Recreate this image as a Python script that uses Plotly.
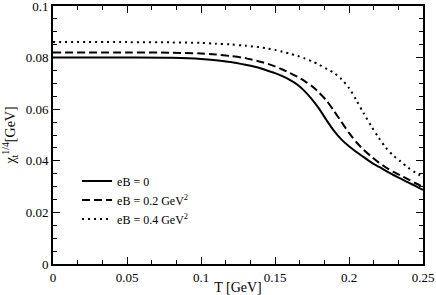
import plotly.graph_objects as go

T = [0, 0.05, 0.08, 0.10, 0.11, 0.12, 0.13, 0.14, 0.145, 0.15, 0.155, 0.16, 0.165, 0.17, 0.175,
     0.18, 0.185, 0.19, 0.195, 0.20, 0.205, 0.21, 0.215, 0.22, 0.225, 0.23, 0.235, 0.24, 0.245, 0.25]

chi_eB0 = [0.0800, 0.0800, 0.0799, 0.0795, 0.0790, 0.0783, 0.0772, 0.0759, 0.0749, 0.0740, 0.0728, 0.0714, 0.0696, 0.0670, 0.0638,
           0.0600, 0.0556, 0.0515, 0.0482, 0.0456, 0.0434, 0.0414, 0.0394, 0.0377, 0.0361, 0.0345, 0.0331, 0.0316, 0.0302, 0.0287]

chi_eB02 = [0.0820, 0.0820, 0.0819, 0.0816, 0.0812, 0.0806, 0.0798, 0.0784, 0.0776, 0.0766, 0.0754, 0.0740, 0.0726, 0.0709, 0.0689,
            0.0663, 0.0632, 0.0592, 0.0550, 0.0508, 0.0472, 0.0442, 0.0417, 0.0394, 0.0374, 0.0357, 0.0343, 0.0328, 0.0313, 0.0299]

chi_eB04 = [0.0860, 0.0860, 0.0859, 0.0857, 0.0854, 0.0851, 0.0846, 0.0840, 0.0835, 0.0830, 0.0823, 0.0815, 0.0807, 0.0797, 0.0786,
            0.0772, 0.0756, 0.0740, 0.0716, 0.0682, 0.0635, 0.0583, 0.0535, 0.0490, 0.0450, 0.0420, 0.0397, 0.0373, 0.0354, 0.0337]

labels = ["eB = 0", "eB = 0.2 GeV<sup>2</sup>", "eB = 0.4 GeV<sup>2</sup>"]
x_ticks = [0, 0.05, 0.1, 0.15, 0.2, 0.25]
x_ticklabels = ["0", "0.05", "0.1", "0.15", "0.2", "0.25"]
y_ticks = [0, 0.02, 0.04, 0.06, 0.08, 0.1]
y_ticklabels = ["0", "0.02", "0.04", "0.06", "0.08", "0.1"]

FONT = "Liberation Serif, Times New Roman, serif"

fig = go.Figure()
fig.add_trace(go.Scatter(x=T, y=chi_eB0, mode="lines", name=labels[0],
                         line=dict(color="black", width=2, shape="spline", smoothing=0.8, dash="solid")))
fig.add_trace(go.Scatter(x=T, y=chi_eB02, mode="lines", name=labels[1],
                         line=dict(color="black", width=2, shape="spline", smoothing=0.8, dash="8px,4px")))
fig.add_trace(go.Scatter(x=T, y=chi_eB04, mode="lines", name=labels[2],
                         line=dict(color="black", width=2, shape="spline", smoothing=0.8, dash="2px,4px")))

axis_common = dict(showline=True, linecolor="black", linewidth=2, mirror="ticks",
                   ticks="inside", ticklen=7, tickwidth=1, tickcolor="black",
                   showgrid=False, zeroline=False, automargin=False,
                   ticklabeloverflow="allow",
                   tickfont=dict(family=FONT, size=13, color="black"))

fig.update_xaxes(range=[0, 0.25], tickvals=x_ticks, ticktext=x_ticklabels,
                 minor=dict(dtick=0.05/3, tick0=0, ticks="inside", ticklen=4, tickcolor="black"),
                 title=dict(text="T [GeV]", font=dict(family=FONT, size=14, color="black"), standoff=1),
                 **axis_common)
fig.update_yaxes(range=[0, 0.1], tickvals=y_ticks, ticktext=y_ticklabels,
                 minor=dict(dtick=0.005, tick0=0, ticks="inside", ticklen=4, tickcolor="black"),
                 title=dict(text="χ<sub>t</sub><sup>1/4</sup>[GeV]", font=dict(family=FONT, size=14, color="black"), standoff=9),
                 **axis_common)

fig.update_layout(
    width=436, height=295,
    margin=dict(l=53, r=13, t=6, b=31),
    paper_bgcolor="white", plot_bgcolor="white",
    font=dict(family=FONT, size=13, color="black"),
    legend=dict(x=0.065, y=0.378, xanchor="left", yanchor="top",
                bgcolor="rgba(0,0,0,0)", font=dict(family=FONT, size=12),
                itemwidth=30, tracegroupgap=0),
    showlegend=True,
)

fig.write_html("out.html", config={"displayModeBar": False},
               post_script="document.body.style.margin='0px';document.body.style.overflow='hidden';")
